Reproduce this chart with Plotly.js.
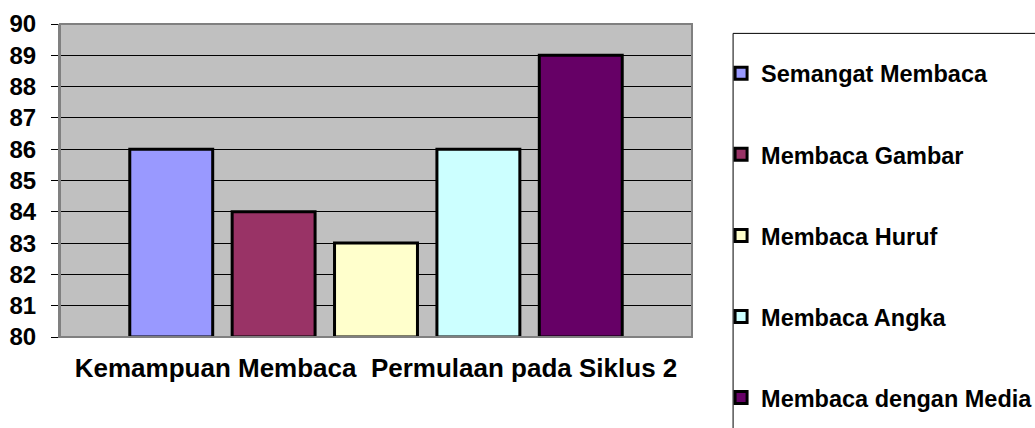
<!DOCTYPE html>
<html>
<head>
<meta charset="utf-8">
<script src="https://cdn.plot.ly/plotly-3.0.1.min.js"></script>
<style>html,body{margin:0;padding:0;background:#fff;}#chart{width:1035px;height:428px;}</style>
</head>
<body>
<div id="chart"></div>
<script>
const category = ['Kemampuan Membaca\u00a0\u00a0Permulaan pada Siklus 2'];
const seriesNames = ['Semangat Membaca', 'Membaca Gambar', 'Membaca Huruf', 'Membaca Angka', 'Membaca dengan Media'];
const seriesValues = [86, 84, 83, 86, 89];
const seriesColors = ['#9999FF', '#993366', '#FFFFCC', '#CCFFFF', '#660066'];
const yMin = 80, yMax = 90;
const yTicks = [80, 81, 82, 83, 84, 85, 86, 87, 88, 89, 90];

const FONT = 'Arial, "Liberation Sans", sans-serif';

const traces = seriesNames.map((name, i) => ({
  type: 'bar',
  name: name,
  x: category,
  y: [seriesValues[i] - yMin],
  base: [yMin],
  legendgroup: 'g' + i,
  marker: { color: seriesColors[i], line: { color: '#000000', width: 3 } },
  hovertemplate: name + ': ' + seriesValues[i] + '<extra></extra>'
}));

const layout = {
  width: 1035, height: 428,
  margin: { l: 60, r: 343, t: 24, b: 91, pad: 0, autoexpand: false },
  paper_bgcolor: '#ffffff',
  plot_bgcolor: '#C0C0C0',
  barmode: 'group',
  bargap: 0.19,
  bargroupgap: 0.19,
  font: { family: FONT, color: '#000000' },
  showlegend: true,
  legend: {
    x: 1.046, xanchor: 'left', y: 0.912, yanchor: 'top',
    font: { family: FONT, size: 23.5, color: '#000', weight: 'bold' },
    bgcolor: 'rgba(0,0,0,0)', borderwidth: 0,
    traceorder: 'grouped', tracegroupgap: 47.5, itemwidth: 30,
    maxheight: 2000
  },
  xaxis: {
    type: 'category',
    showgrid: false,
    showline: true, linecolor: '#808080', linewidth: 1,
    ticks: '', ticklabelstandoff: 8,
    tickfont: { family: FONT, size: 26, color: '#000', weight: 'bold' },
    fixedrange: true
  },
  yaxis: {
    range: [yMin, yMax],
    tickvals: yTicks,
    ticks: 'outside', ticklen: 7, tickcolor: '#000', tickwidth: 1,
    showgrid: true, gridcolor: '#000000', gridwidth: 1,
    showline: true, linecolor: '#808080', linewidth: 2,
    zeroline: false,
    ticklabelstandoff: 10,
    tickfont: { family: FONT, size: 24, color: '#000', weight: 'bold' },
    fixedrange: true
  },
  shapes: [
    { type: 'rect', xref: 'paper', yref: 'paper', x0: 0, x1: 1, y0: 0, y1: 1,
      line: { color: '#808080', width: 2 }, fillcolor: 'rgba(0,0,0,0)', layer: 'above' },
    { type: 'rect', xref: 'paper', yref: 'paper', x0: 1.065, x1: 1.7, y0: 0.97, y1: -0.5,
      line: { color: '#000000', width: 1 }, fillcolor: 'rgba(0,0,0,0)' }
  ]
};

Plotly.newPlot('chart', traces, layout, { displayModeBar: false, staticPlot: true });
</script>
</body>
</html>
